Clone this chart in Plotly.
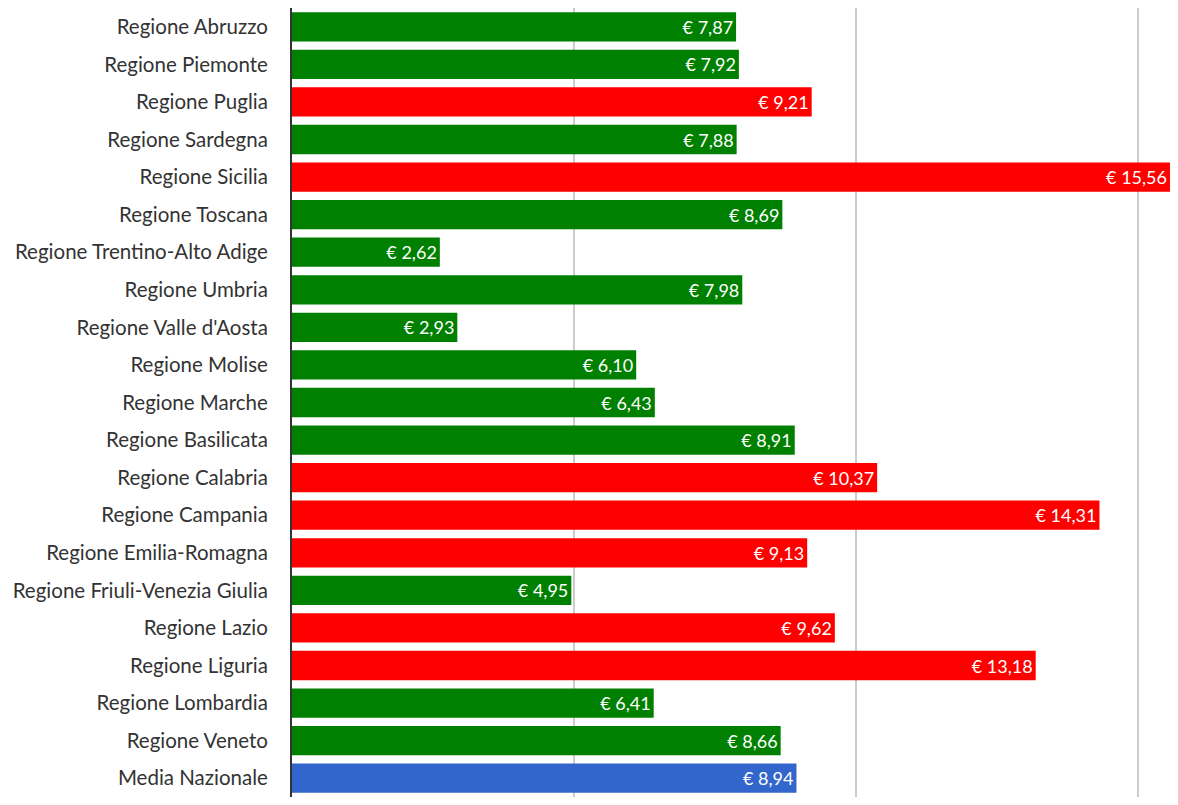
import plotly.graph_objects as go

regions = ["Regione Abruzzo", "Regione Piemonte", "Regione Puglia", "Regione Sardegna",
           "Regione Sicilia", "Regione Toscana", "Regione Trentino-Alto Adige", "Regione Umbria",
           "Regione Valle d'Aosta", "Regione Molise", "Regione Marche", "Regione Basilicata",
           "Regione Calabria", "Regione Campania", "Regione Emilia-Romagna",
           "Regione Friuli-Venezia Giulia", "Regione Lazio", "Regione Liguria",
           "Regione Lombardia", "Regione Veneto", "Media Nazionale"]
values = [7.87, 7.92, 9.21, 7.88, 15.56, 8.69, 2.62, 7.98, 2.93, 6.10, 6.43, 8.91,
          10.37, 14.31, 9.13, 4.95, 9.62, 13.18, 6.41, 8.66, 8.94]

avg = values[-1]
colors = []
for r, v in zip(regions, values):
    if r == "Media Nazionale":
        colors.append("#3366cc")
    elif v > avg:
        colors.append("#ff0000")
    else:
        colors.append("#008000")

labels = ["€ " + f"{v:.2f}".replace(".", ",") for v in values]

fig = go.Figure(go.Bar(
    x=values, y=regions, orientation="h",
    marker=dict(color=colors, line=dict(width=0)),
    text=labels, textposition="inside", insidetextanchor="end",
    textfont=dict(color="white", size=18, family="Lato"),
    textangle=0, cliponaxis=False,
))

# page body has an 8px margin on every side, so keep the figure inside the window
fig.update_layout(
    width=1162, height=789,
    margin=dict(l=284, r=0, t=0, b=0),
    plot_bgcolor="white", paper_bgcolor="white",
    bargap=0.22,
    showlegend=False,
    font=dict(family="Lato", size=20.5, color="#333333"),
)
fig.update_xaxes(range=[0, 15.56], dtick=5, showticklabels=False,
                 showgrid=True, gridcolor="#cccccc", gridwidth=2, zeroline=False)
fig.update_yaxes(autorange="reversed", showline=True, linecolor="#333333", linewidth=2,
                 ticks="", ticklabelstandoff=18, showgrid=False)

fig.write_html("out.html")
